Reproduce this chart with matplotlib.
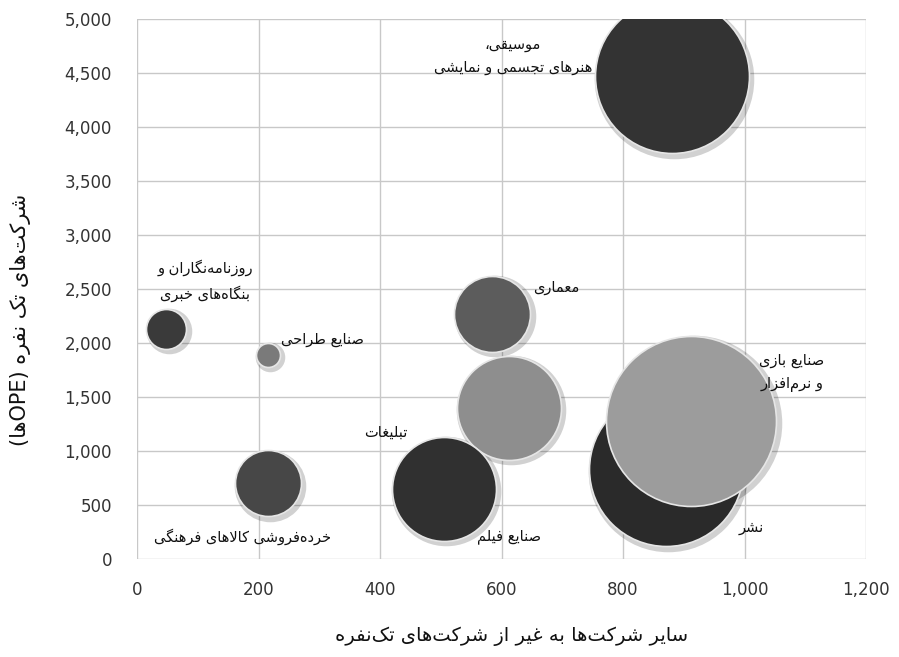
import matplotlib
matplotlib.use("Agg")
import matplotlib.pyplot as plt
from matplotlib.ticker import FuncFormatter

# --- data ---------------------------------------------------------------
industries = [
    "موسیقی،\nهنرهای تجسمی و نمایشی",
    "روزنامه‌نگاران و\nبنگاه‌های خبری",
    "صنایع طراحی",
    "خرده‌فروشی کالاهای فرهنگی",
    "معماری",
    "تبلیغات",
    "صنایع فیلم",
    "نشر",
    "صنایع بازی\nو نرم‌افزار",
]
other_firms = [880, 48, 215, 215, 585, 612, 505, 870, 912]          # x
ope_firms = [4470, 2130, 1890, 700, 2270, 1400, 650, 830, 1280]      # y
bubble_size = [77, 20, 12, 33, 38, 52, 52, 77, 85]                   # radius, px
bubble_color = ["#333333", "#3a3a3a", "#7a7a7a", "#474747", "#5c5c5c",
                "#8e8e8e", "#303030", "#2a2a2a", "#9c9c9c"]
label_pos = [(619, 4657), (112, 2579), (306, 2031), (174, 204), (690, 2514),
             (410, 1178), (612, 204), (1011, 288), (1078, 1725)]

x_title = "سایر شرکت‌ها به غیر از شرکت‌های تک‌نفره"
y_title = "شرکت‌های تک نفره (OPEها)"

# --- minimal persian shaping + bidi (matplotlib draws glyphs LTR, unjoined) ---
_FORMS = {
    "ا": (0xFE8D, 0xFE8E), "آ": (0xFE81, 0xFE82), "د": (0xFEA9, 0xFEAA),
    "ذ": (0xFEAB, 0xFEAC), "ر": (0xFEAD, 0xFEAE), "ز": (0xFEAF, 0xFEB0),
    "ژ": (0xFB8A, 0xFB8B), "و": (0xFEED, 0xFEEE),
    "ب": (0xFE8F, 0xFE90, 0xFE91, 0xFE92), "پ": (0xFB56, 0xFB57, 0xFB58, 0xFB59),
    "ت": (0xFE95, 0xFE96, 0xFE97, 0xFE98), "ث": (0xFE99, 0xFE9A, 0xFE9B, 0xFE9C),
    "ج": (0xFE9D, 0xFE9E, 0xFE9F, 0xFEA0), "چ": (0xFB7A, 0xFB7B, 0xFB7C, 0xFB7D),
    "ح": (0xFEA1, 0xFEA2, 0xFEA3, 0xFEA4), "خ": (0xFEA5, 0xFEA6, 0xFEA7, 0xFEA8),
    "س": (0xFEB1, 0xFEB2, 0xFEB3, 0xFEB4), "ش": (0xFEB5, 0xFEB6, 0xFEB7, 0xFEB8),
    "ص": (0xFEB9, 0xFEBA, 0xFEBB, 0xFEBC), "ض": (0xFEBD, 0xFEBE, 0xFEBF, 0xFEC0),
    "ط": (0xFEC1, 0xFEC2, 0xFEC3, 0xFEC4), "ظ": (0xFEC5, 0xFEC6, 0xFEC7, 0xFEC8),
    "ع": (0xFEC9, 0xFECA, 0xFECB, 0xFECC), "غ": (0xFECD, 0xFECE, 0xFECF, 0xFED0),
    "ف": (0xFED1, 0xFED2, 0xFED3, 0xFED4), "ق": (0xFED5, 0xFED6, 0xFED7, 0xFED8),
    "ک": (0xFB8E, 0xFB8F, 0xFB90, 0xFB91), "گ": (0xFB92, 0xFB93, 0xFB94, 0xFB95),
    "ل": (0xFEDD, 0xFEDE, 0xFEDF, 0xFEE0), "م": (0xFEE1, 0xFEE2, 0xFEE3, 0xFEE4),
    "ن": (0xFEE5, 0xFEE6, 0xFEE7, 0xFEE8), "ه": (0xFEE9, 0xFEEA, 0xFEEB, 0xFEEC),
    "ی": (0xFBFC, 0xFBFD, 0xFBFE, 0xFBFF), "ئ": (0xFE89, 0xFE8A, 0xFE8B, 0xFE8C),
}
_LAM_ALEF = {"ا": (0xFEFB, 0xFEFC), "آ": (0xFEF5, 0xFEF6)}


def _dual(c):
    return c in _FORMS and len(_FORMS[c]) == 4


def shape(text):
    out = []
    i = 0
    while i < len(text):
        c = text[i]
        if c not in _FORMS:
            out.append(c)
            i += 1
            continue
        prev = text[i - 1] if i > 0 else ""
        nxt = text[i + 1] if i + 1 < len(text) else ""
        joins_prev = _dual(prev)
        if c == "ل" and nxt in _LAM_ALEF:
            out.append(chr(_LAM_ALEF[nxt][1 if joins_prev else 0]))
            i += 2
            continue
        joins_next = _dual(c) and nxt in _FORMS
        f = _FORMS[c]
        if joins_prev and joins_next:
            out.append(chr(f[3]))
        elif joins_prev:
            out.append(chr(f[1]))
        elif joins_next:
            out.append(chr(f[2]))
        else:
            out.append(chr(f[0]))
        i += 1
    return "".join(out).replace("\u200c", "")


def fa(text):
    lines = []
    for line in text.split("\n"):
        s = shape(line)
        runs, cur, cur_ltr = [], "", None
        for ch in s:
            ltr = ch.isascii() and ch.isalnum()
            if cur and ltr != cur_ltr:
                runs.append((cur, cur_ltr))
                cur = ""
            cur += ch
            cur_ltr = ltr
        if cur:
            runs.append((cur, cur_ltr))
        mirror = str.maketrans("()", ")(")
        vis = [r if ltr else r[::-1].translate(mirror) for r, ltr in reversed(runs)]
        lines.append("".join(vis))
    return "\n".join(lines)


# --- figure -------------------------------------------------------------
fig = plt.figure(figsize=(8.99, 6.57), dpi=100)
ax = fig.add_axes([0.1524, 0.1492, 0.8109, 0.8219])

ax.set_xlim(0, 1200)
ax.set_ylim(0, 5000)
ax.set_xticks(range(0, 1201, 200))
ax.set_yticks(range(0, 5001, 500))
fmt = FuncFormatter(lambda v, _: f"{int(v):,}")
ax.xaxis.set_major_formatter(fmt)
ax.yaxis.set_major_formatter(fmt)
ax.tick_params(length=0, labelsize=12, labelcolor="#333333")
ax.tick_params(axis="x", pad=16)
ax.tick_params(axis="y", pad=18)
ax.grid(True, color="#c8c8c8", linewidth=1.0)
ax.set_axisbelow(True)
for sp in ax.spines.values():
    sp.set_visible(False)

for x, y, r, col in zip(other_firms, ope_firms, bubble_size, bubble_color):
    d = 2 * r * 72 / 100
    # soft shadow, then the bubble itself with a pale rim
    ax.scatter([x + 2.5 / 0.6075], [y - 2.5 / 0.108], s=(d + 4) ** 2,
               color="#000000", alpha=0.18, linewidths=0, zorder=2)
    ax.scatter([x], [y], s=d ** 2, color=col, edgecolors="#e6e6e6",
               linewidths=1.2, zorder=3)

for name, (lx, ly) in zip(industries, label_pos):
    ax.text(lx, ly, fa(name), ha="center", va="center", fontsize=10.5,
            color="#111111", family="DejaVu Sans", linespacing=1.7, zorder=5)

ax.set_xlabel(fa(x_title), fontsize=14, color="#111111")
ax.xaxis.set_label_coords(0.514, -0.125)
ax.set_ylabel(fa(y_title), fontsize=15, color="#111111")
ax.yaxis.set_label_coords(-0.145, 0.443)

fig.savefig("out.png", dpi=100)
